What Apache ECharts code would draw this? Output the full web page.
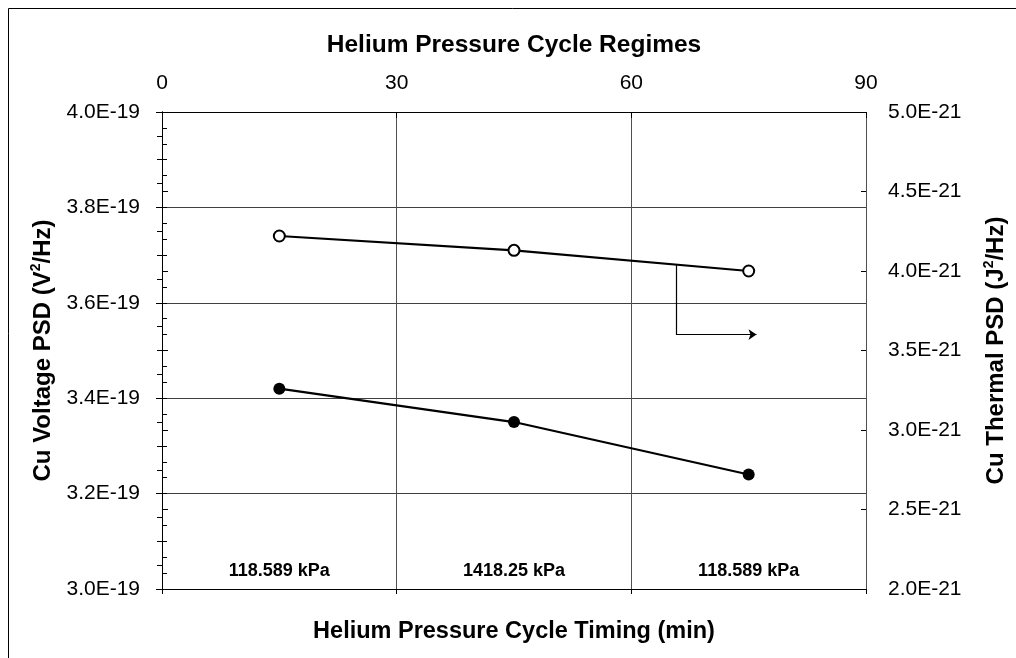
<!DOCTYPE html>
<html>
<head>
<meta charset="utf-8">
<title>Cu PSD over helium pressure cycle</title>
<script src="https://cdn.jsdelivr.net/npm/echarts@6/dist/echarts.min.js"></script>
<style>
  html, body { margin: 0; padding: 0; background: #fff; }
  #chart { width: 1016px; height: 658px; }
</style>
</head>
<body>
<div id="chart"></div>
<script>
// Timing of each measurement within the pressure cycle (min)
const timing = [15, 45, 75];
// Cu voltage PSD, in units of 1E-19 V^2/Hz (left axis)
const voltagePsd = [3.42, 3.35, 3.24];
// Cu thermal PSD, in units of 1E-21 J^2/Hz (right axis)
const thermalPsd = [4.22, 4.13, 4.00];
// Pressure regime of each segment
const regimeLabels = ['118.589 kPa', '1418.25 kPa', '118.589 kPa'];
const regimeLabelLevel = 3.038;
// Arrow pointing from the thermal curve to its (right) axis
const arrowStem = [[65.7, 4.04], [65.7, 3.6]];
const arrowShaft = [[65.7, 3.6], [76, 3.6]];

const FONT = 'Liberation Sans, Arial, sans-serif';
const axisMin = 0, axisMax = 90, axisStep = 30;

const chart = echarts.init(document.getElementById('chart'), null, { renderer: 'canvas' });

const tickLabel = { color: '#000', fontSize: 21, fontFamily: FONT };
const titleStyle = size => ({ color: '#000', fontSize: size, fontWeight: 'bold', fontFamily: FONT });
const titleRich = {
  t: { fontSize: 24, fontWeight: 'bold', fontFamily: FONT, color: '#000', lineHeight: 28 },
  s: { fontSize: 14, fontWeight: 'bold', fontFamily: FONT, color: '#000', lineHeight: 14, verticalAlign: 'top' }
};
const blackLine = { show: true, lineStyle: { color: '#000', width: 1 } };

const option = {
  animation: false,
  backgroundColor: '#fff',
  graphic: [{
    type: 'rect',
    shape: { x: 8.5, y: 8.5, width: 1100, height: 800 },
    style: { fill: 'none', stroke: '#000', lineWidth: 1 },
    silent: true
  }],
  grid: { left: 162, right: 146, top: 112, bottom: 69, containLabel: false },
  xAxis: [
    {
      type: 'value', position: 'top', min: axisMin, max: axisMax, interval: axisStep,
      name: 'Helium Pressure Cycle Regimes', nameLocation: 'middle', nameGap: 54,
      nameTextStyle: titleStyle(24.5),
      axisLine: blackLine,
      axisTick: { show: true, inside: true, length: 6, lineStyle: { color: '#000' } },
      axisLabel: Object.assign({ margin: 18 }, tickLabel),
      splitLine: { show: true, lineStyle: { color: '#505050', width: 1 } }
    },
    {
      type: 'value', position: 'bottom', min: axisMin, max: axisMax, interval: axisStep,
      name: 'Helium Pressure Cycle Timing (min)', nameLocation: 'middle', nameGap: 31,
      nameTextStyle: titleStyle(23.5),
      axisLine: blackLine,
      axisTick: { show: true, inside: false, length: 5, lineStyle: { color: '#000' } },
      axisLabel: { show: false },
      splitLine: { show: false }
    }
  ],
  yAxis: [
    {
      type: 'value', position: 'left', min: 3.0, max: 4.0, interval: 0.2,
      name: '{t|Cu Voltage PSD (V}{s|2}{t|/Hz)}', nameLocation: 'middle', nameGap: 104,
      nameRotate: 90,
      nameTextStyle: { rich: titleRich },
      axisLine: blackLine,
      axisTick: { show: true, inside: false, length: 6, lineStyle: { color: '#000' } },
      minorTick: { show: true, splitNumber: 4, length: 5, lineStyle: { color: '#000' } },
      axisLabel: Object.assign({ margin: 22, formatter: v => v.toFixed(1) + 'E-19' }, tickLabel),
      splitLine: { show: true, lineStyle: { color: '#404040', width: 1 } }
    },
    {
      type: 'value', position: 'right', min: 2.0, max: 5.0, interval: 0.5,
      name: '{t|Cu Thermal PSD (J}{s|2}{t|/Hz)}', nameLocation: 'middle', nameGap: 116,
      nameRotate: 90,
      nameTextStyle: { rich: titleRich },
      axisLine: blackLine,
      axisTick: { show: true, inside: false, length: 6, lineStyle: { color: '#000' } },
      minorTick: { show: true, splitNumber: 5, length: 5, lineStyle: { color: '#000' } },
      axisLabel: Object.assign({ margin: 22, formatter: v => v.toFixed(1) + 'E-21' }, tickLabel),
      splitLine: { show: false }
    },
    // inner halves of the crossing major ticks
    {
      type: 'value', position: 'left', min: 3.0, max: 4.0, interval: 0.2,
      axisLine: { show: false },
      axisTick: { show: true, inside: true, length: 5, lineStyle: { color: '#000' } },
      axisLabel: { show: false }, splitLine: { show: false }
    },
    {
      type: 'value', position: 'right', min: 2.0, max: 5.0, interval: 0.5,
      axisLine: { show: false },
      axisTick: { show: true, inside: true, length: 5, lineStyle: { color: '#000' } },
      axisLabel: { show: false }, splitLine: { show: false }
    }
  ],
  series: [
    {
      name: 'Cu Voltage PSD', type: 'line', xAxisIndex: 0, yAxisIndex: 0,
      data: timing.map((t, i) => [t, voltagePsd[i]]),
      symbol: 'circle', symbolSize: 12,
      itemStyle: { color: '#000' },
      lineStyle: { color: '#000', width: 2.2 },
      z: 5
    },
    {
      name: 'Cu Thermal PSD', type: 'line', xAxisIndex: 0, yAxisIndex: 1,
      data: timing.map((t, i) => [t, thermalPsd[i]]),
      symbol: 'emptyCircle', symbolSize: 11,
      itemStyle: { color: '#000', borderColor: '#000', borderWidth: 1 },
      lineStyle: { color: '#000', width: 2.2 },
      z: 5
    },
    {
      type: 'lines', coordinateSystem: 'cartesian2d', xAxisIndex: 0, yAxisIndex: 1,
      data: [{ coords: arrowStem }],
      symbol: ['none', 'none'],
      lineStyle: { color: '#000', width: 1.2, opacity: 1 },
      silent: true, z: 4
    },
    {
      type: 'lines', coordinateSystem: 'cartesian2d', xAxisIndex: 0, yAxisIndex: 1,
      data: [{ coords: arrowShaft }],
      symbol: ['none', 'arrow'], symbolSize: 8,
      lineStyle: { color: '#000', width: 1.2, opacity: 1 },
      silent: true, z: 4
    },
    {
      type: 'scatter', xAxisIndex: 0, yAxisIndex: 0,
      data: timing.map(t => [t, regimeLabelLevel]),
      symbolSize: 0,
      itemStyle: { opacity: 1 },
      label: {
        show: true, position: 'inside',
        formatter: p => regimeLabels[p.dataIndex],
        color: '#000', fontSize: 18, fontWeight: 'bold', fontFamily: FONT,
        textBorderWidth: 0, opacity: 1
      },
      silent: true, z: 6
    }
  ]
};

chart.setOption(option);
</script>
</body>
</html>
